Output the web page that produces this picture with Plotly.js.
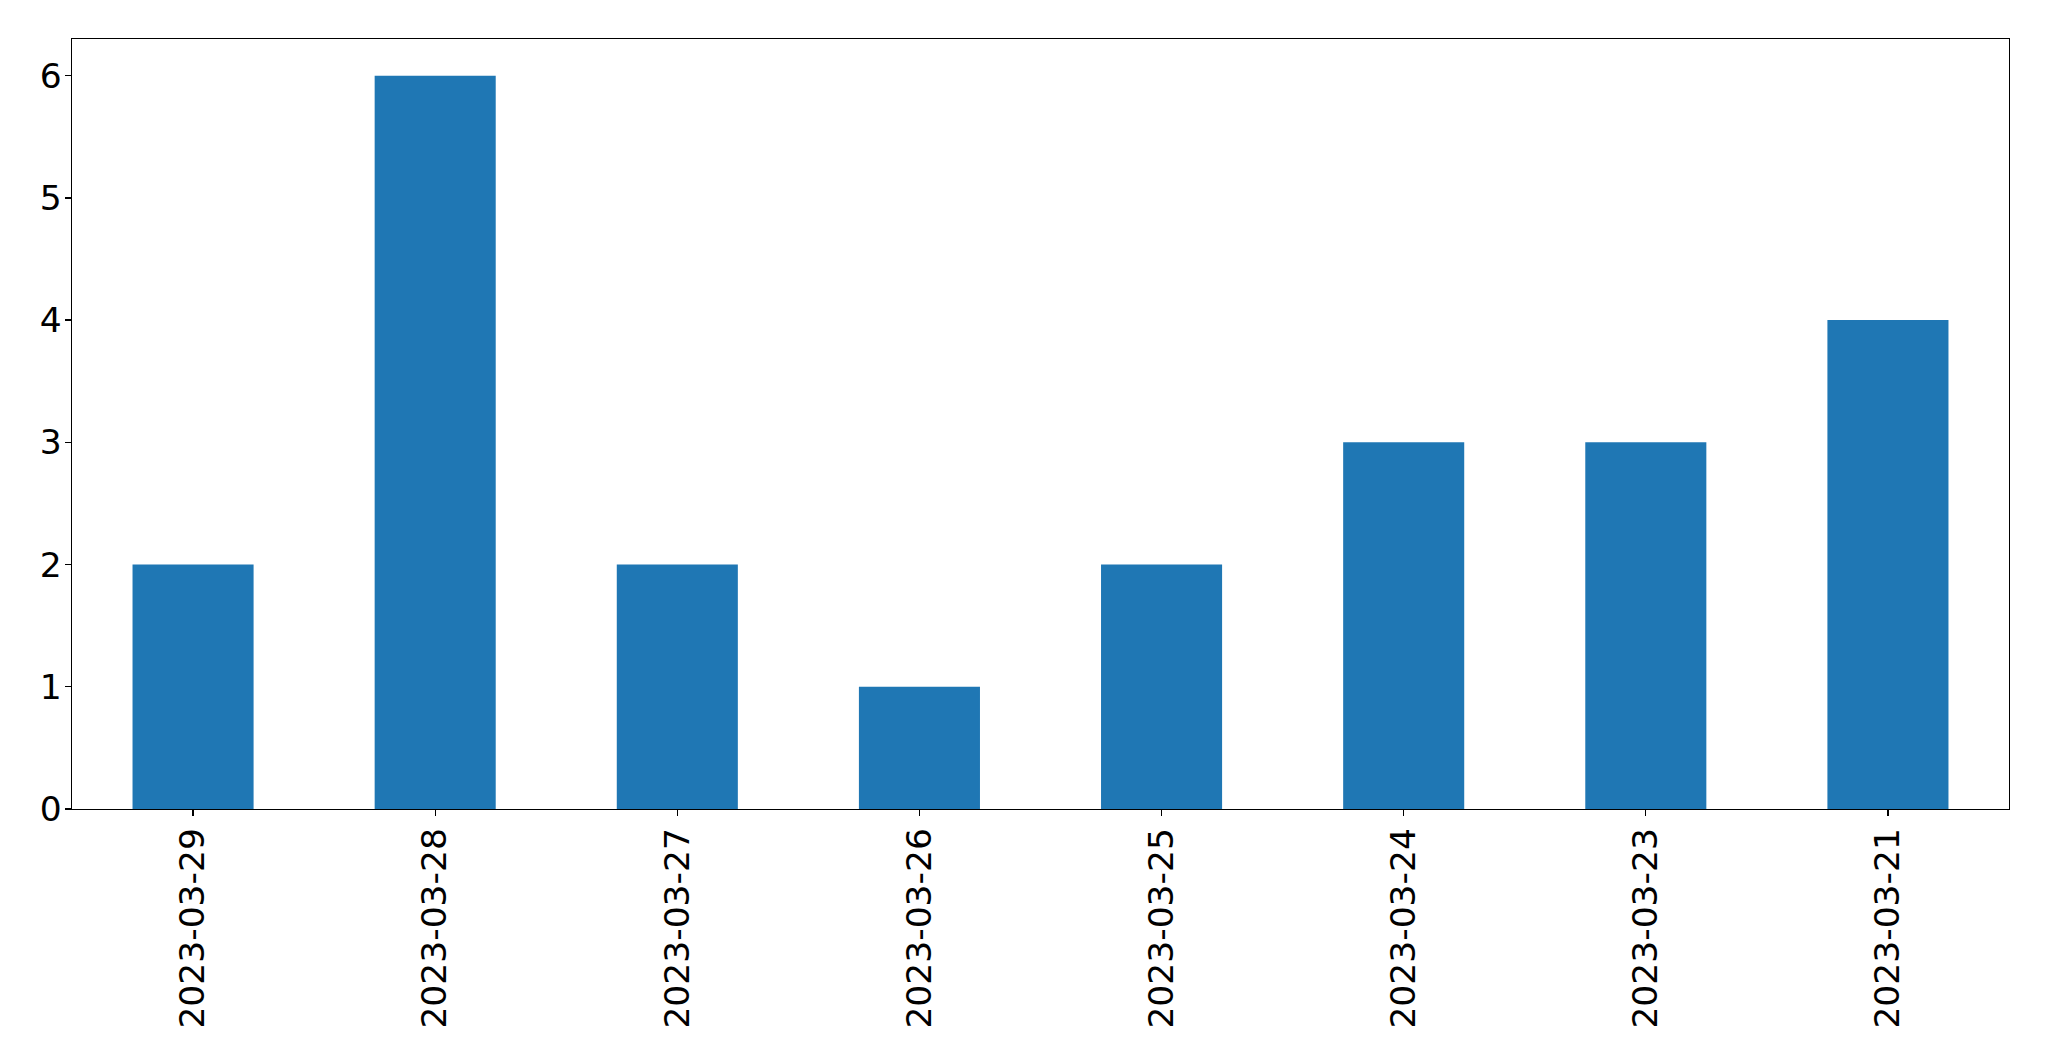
<!DOCTYPE html>
<html>
<head>
<meta charset="utf-8">
<script src="https://cdn.plot.ly/plotly-3.0.1.min.js"></script>
<style>html,body{margin:0;padding:0;background:#fff;}#chart{width:2049px;height:1061px;}</style>
</head>
<body>
<div id="chart"></div>
<script>
const dates = ["2023-03-29","2023-03-28","2023-03-27","2023-03-26","2023-03-25","2023-03-24","2023-03-23","2023-03-21"];
const counts = [2, 6, 2, 1, 2, 3, 3, 4];
const yTicks = [0, 1, 2, 3, 4, 5, 6];

const trace = {
  type: "bar",
  x: dates,
  y: counts,
  marker: {color: "#1f77b4", line: {width: 0}},
  hoverinfo: "x+y"
};

const layout = {
  width: 2049,
  height: 1061,
  margin: {l: 72, r: 40, t: 39, b: 252, pad: 0},
  paper_bgcolor: "#ffffff",
  plot_bgcolor: "#ffffff",
  showlegend: false,
  bargap: 0.5,
  font: {family: "DejaVu Sans", size: 34.5, color: "#000000"},
  xaxis: {
    type: "category",
    range: [-0.5, 7.5],
    tickangle: -90,
    ticks: "outside",
    ticklen: 6,
    tickwidth: 1.3,
    tickcolor: "#000",
    ticklabelstandoff: -2,
    showline: true,
    linecolor: "#000",
    linewidth: 1.3,
    mirror: true,
    showgrid: false,
    zeroline: false,
    tickfont: {family: "DejaVu Sans", size: 34.5, color: "#000"}
  },
  yaxis: {
    range: [0, 6.3],
    tickmode: "array",
    tickvals: yTicks,
    ticktext: yTicks.map(String),
    ticks: "outside",
    ticklen: 6,
    tickwidth: 1.3,
    tickcolor: "#000",
    ticklabelstandoff: -4,
    showline: true,
    linecolor: "#000",
    linewidth: 1.3,
    mirror: true,
    showgrid: false,
    zeroline: false,
    tickfont: {family: "DejaVu Sans", size: 34.5, color: "#000"}
  }
};

Plotly.newPlot("chart", [trace], layout, {displayModeBar: false, staticPlot: true});
</script>
</body>
</html>
